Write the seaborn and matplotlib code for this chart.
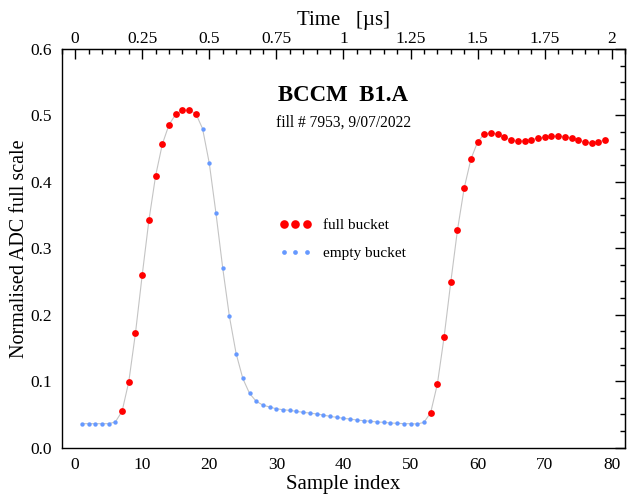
import numpy as np
import pandas as pd
import matplotlib
matplotlib.use("Agg")
import matplotlib.pyplot as plt
from matplotlib.ticker import MultipleLocator, FixedLocator, FuncFormatter
from matplotlib.lines import Line2D
import seaborn as sns

# ADC samples (sample index 1..79)
adc_values = [
    0.036, 0.036, 0.036, 0.036, 0.036, 0.0386, 0.0546, 0.099, 0.1725, 0.2595,
    0.342, 0.409, 0.4566, 0.486, 0.5016, 0.5075, 0.508, 0.5025, 0.480, 0.428,
    0.3525, 0.2706, 0.1975, 0.1416, 0.104, 0.0816, 0.0696, 0.064, 0.061, 0.0585,
    0.057, 0.056, 0.0546, 0.053, 0.052, 0.0506, 0.049, 0.047, 0.0456, 0.044,
    0.043, 0.0415, 0.0405, 0.0396, 0.0386, 0.038, 0.037, 0.0366, 0.036, 0.036,
    0.0355, 0.038, 0.0525, 0.0955, 0.166, 0.249, 0.3276, 0.3906, 0.434, 0.460,
    0.472, 0.474, 0.4716, 0.467, 0.4626, 0.461, 0.462, 0.4635, 0.4656, 0.467,
    0.4686, 0.469, 0.468, 0.466, 0.4626, 0.460, 0.4585, 0.460, 0.463,
]
bucket = ["empty"] * 6 + ["full"] * 12 + ["empty"] * 34 + ["full"] * 27
sample_index = np.arange(1, len(adc_values) + 1)
ns_per_sample = 0.025  # microseconds
time_ticks = [0, 0.25, 0.5, 0.75, 1, 1.25, 1.5, 1.75, 2]

title = "BCCM  B1.A"
subtitle = "fill # 7953, 9/07/2022"

df = pd.DataFrame({"sample": sample_index, "adc": adc_values, "bucket": bucket})

sns.set_style("white")
plt.rcParams["font.family"] = ["Liberation Serif", "DejaVu Serif"]
plt.rcParams["text.color"] = "black"
plt.rcParams["axes.labelcolor"] = "black"
plt.rcParams["xtick.color"] = "black"
plt.rcParams["ytick.color"] = "black"

red = "#ff0000"
blue = "#6699ff"

fig = plt.figure(figsize=(6.36, 4.99), dpi=100)
ax = fig.add_axes([0.097, 0.103, 0.886, 0.799])

# thin grey line through all samples
sns.lineplot(data=df, x="sample", y="adc", color="#c4c4c4", linewidth=0.8,
             ax=ax, zorder=1)
sns.scatterplot(data=df[df.bucket == "full"], x="sample", y="adc", color=red,
                s=24, linewidth=0, ax=ax, zorder=3)
sns.scatterplot(data=df[df.bucket == "empty"], x="sample", y="adc", color=blue,
                s=10, linewidth=0, ax=ax, zorder=3)

ax.set_xlim(-2, 82)
ax.set_ylim(0, 0.6)
ax.xaxis.set_major_locator(MultipleLocator(10))
ax.xaxis.set_minor_locator(MultipleLocator(2))
ax.yaxis.set_major_locator(MultipleLocator(0.1))
ax.yaxis.set_minor_locator(MultipleLocator(0.025))
ax.yaxis.set_major_formatter(FuncFormatter(lambda v, p: "%.1f" % v))

for sp in ax.spines.values():
    sp.set_color("black")
    sp.set_linewidth(1.0)

ax.tick_params(which="both", direction="in", labelsize=12.5, colors="black")
ax.tick_params(which="major", length=7, width=1, pad=7)
ax.tick_params(which="minor", length=3.5, width=1)
ax.set_xlabel("Sample index", fontsize=15, labelpad=1)
ax.set_ylabel("Normalised ADC full scale", fontsize=14.5, labelpad=1)

# time axis on top
top = ax.secondary_xaxis("top", functions=(lambda x: x * ns_per_sample,
                                           lambda t: t / ns_per_sample))
top.xaxis.set_major_locator(FixedLocator(time_ticks))
top.xaxis.set_minor_locator(MultipleLocator(0.05))
top.xaxis.set_major_formatter(FuncFormatter(lambda v, p: "%g" % v))
top.tick_params(which="both", direction="in", labelsize=12.5, colors="black")
top.tick_params(which="major", length=7, width=1, pad=1.5)
top.tick_params(which="minor", length=3.5, width=1)
top.set_xlabel("Time   [\u00b5s]", fontsize=15, labelpad=4)

right = ax.secondary_yaxis("right")
right.yaxis.set_major_locator(MultipleLocator(0.1))
right.yaxis.set_minor_locator(MultipleLocator(0.025))
right.tick_params(which="both", direction="in", labelright=False,
                  colors="black")
right.tick_params(which="major", length=7, width=1)
right.tick_params(which="minor", length=3.5, width=1)

ax.text(0.5, 0.882, title, transform=ax.transAxes, ha="center", va="center",
        fontsize=16.5, fontweight="bold")
ax.text(0.5, 0.816, subtitle, transform=ax.transAxes, ha="center",
        va="center", fontsize=11.2)

handles = [
    Line2D([], [], linestyle="none", marker="o", color=red, markersize=6.2,
           markeredgewidth=0),
    Line2D([], [], linestyle="none", marker="o", color=blue, markersize=3.4,
           markeredgewidth=0),
]
ax.legend(handles, ["full bucket", "empty bucket"], numpoints=3,
          loc="upper left", bbox_to_anchor=(0.386, 0.575), frameon=False,
          fontsize=11, borderpad=0, borderaxespad=0, handlelength=2.1,
          handletextpad=0.75, labelspacing=0.95)

fig.savefig("out.png", dpi=100)
